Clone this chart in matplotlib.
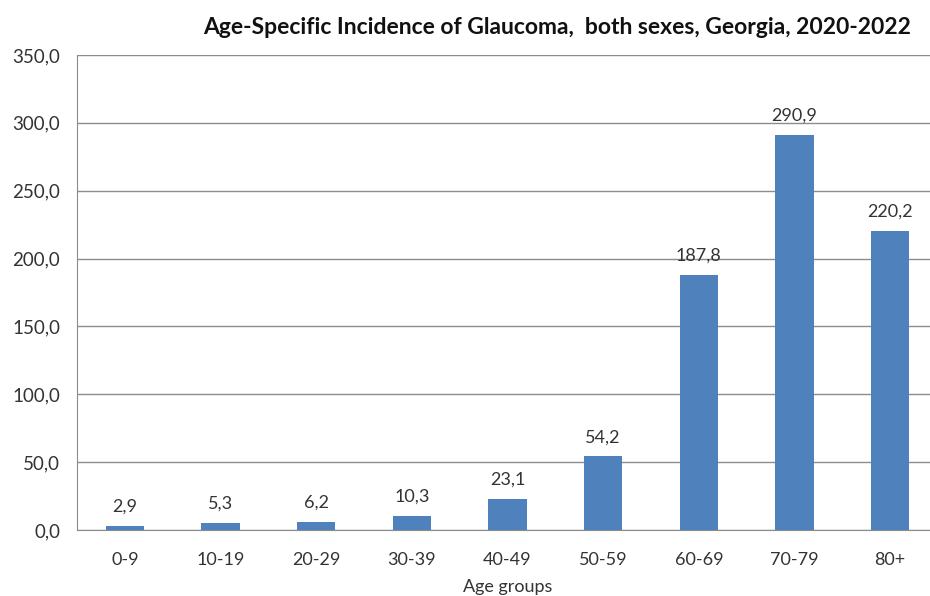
import matplotlib
matplotlib.use("Agg")
import matplotlib.pyplot as plt

categories = ["0-9", "10-19", "20-29", "30-39", "40-49", "50-59", "60-69", "70-79", "80+"]
values = [2.9, 5.3, 6.2, 10.3, 23.1, 54.2, 187.8, 290.9, 220.2]
yticks = [0, 50, 100, 150, 200, 250, 300, 350]

plt.rcParams['font.family'] = ['Lato', 'DejaVu Sans']

fig = plt.figure(figsize=(9.3, 5.96), dpi=100)
ax = fig.add_axes([77/930, 66/596, 861/930, 475/596])

x = list(range(len(categories)))
ax.bar(x, values, width=0.4, color="#4F81BD", zorder=3)
for xi, v in zip(x, values):
    ax.annotate(f"{v:.1f}".replace(".", ","), (xi, v), xytext=(0, 8),
                textcoords="offset points", ha="center", va="bottom",
                fontsize=13, color="#333333")

ax.set_xlim(-0.5, len(categories) - 0.5)
ax.set_ylim(0, 350)
ax.set_yticks(yticks)
ax.set_yticklabels([f"{t:.1f}".replace(".", ",") for t in yticks], fontsize=13.5, color="#333333")
ax.set_xticks(x)
ax.set_xticklabels(categories, fontsize=13, color="#333333")
ax.tick_params(axis="both", length=0)
ax.tick_params(axis="x", pad=16)
ax.tick_params(axis="y", pad=12)
ax.grid(axis="y", color="#8c8c8c", linewidth=1, zorder=0)
for s in ["top", "right"]:
    ax.spines[s].set_visible(False)
ax.spines["left"].set_color("#8c8c8c")
ax.spines["bottom"].set_color("#8c8c8c")

ax.set_xlabel("Age groups", fontsize=13, color="#333333", labelpad=8)
fig.text(557/930, 1 - 28/596, "Age-Specific Incidence of Glaucoma,  both sexes, Georgia, 2020-2022",
         ha="center", va="center", fontsize=16.5, fontweight="bold", color="#111111")

fig.savefig("out.png", dpi=100, facecolor="white")
